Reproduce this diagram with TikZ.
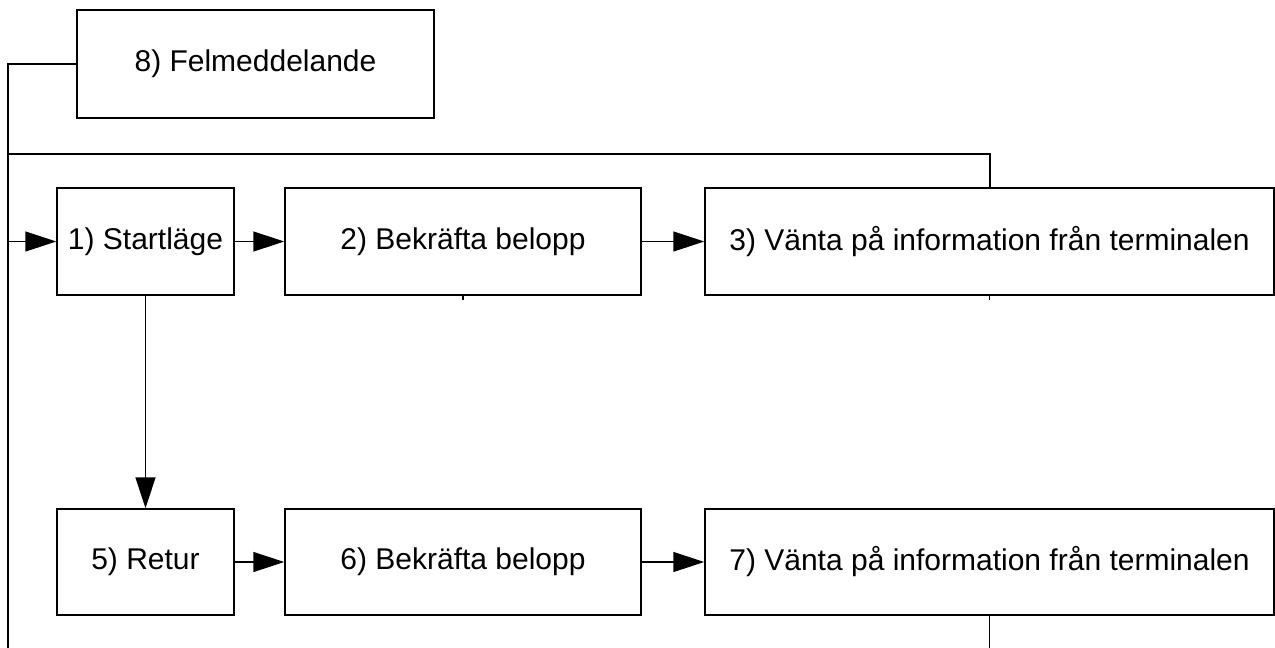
\documentclass[tikz,border=0pt]{standalone}
\usepackage{fontspec}
\setmainfont{Liberation Sans}
\usetikzlibrary{arrows.meta}
\tikzset{>={Triangle[length=31pt,width=20pt]}}
\tikzset{state/.style={draw,line width=1.5pt,minimum height=107pt,inner sep=0pt,
    font=\fontsize{30}{36}\selectfont}}

\begin{document}
\begin{tikzpicture}[x=1pt,y=-1pt,line width=1.5pt]
  \useasboundingbox (0,0) rectangle (1275,648);
  \node[state,minimum width=357pt,minimum height=108pt] (b8) at (255.5,64) {8) Felmeddelande};
  \node[state,minimum width=177pt] (b1) at (145.5,241.5) {1) Startläge};
  \node[state,minimum width=356pt] (b2) at (463,241.5) {2) Bekräfta belopp};
  \node[state,minimum width=569pt] (b3) at (989.5,241.5) {3) Vänta på information från terminalen};
  \node[state,minimum width=177pt,minimum height=106pt] (b5) at (145.5,562) {5) Retur};
  \node[state,minimum width=356pt,minimum height=106pt] (b6) at (463,562) {6) Bekräfta belopp};
  \node[state,minimum width=569pt,minimum height=106pt] (b7) at (989.5,562) {7) Vänta på information från terminalen};
  \coordinate (lft) at (8,648);
  \coordinate (top) at (990,154);
  % 
  \draw (b8.west) -| (lft);
  \draw (top -| lft) -- (top) -- (top |- b3.north);
  \draw (b7.south) -- (b7.south |- lft);
  \draw[->] (b1.west -| lft) -- (b1.west);
  \draw[->] (b1) -- (b2);
  \draw[->] (b2) -- (b3);
  \draw[->] (b1) -- (b5);
  \draw[->] (b5) -- (b6);
  \draw[->] (b6) -- (b7);
  \draw (b2.south) -- ++(0,4);
  \draw (b3.south) -- ++(0,4);
\end{tikzpicture}
\end{document}
